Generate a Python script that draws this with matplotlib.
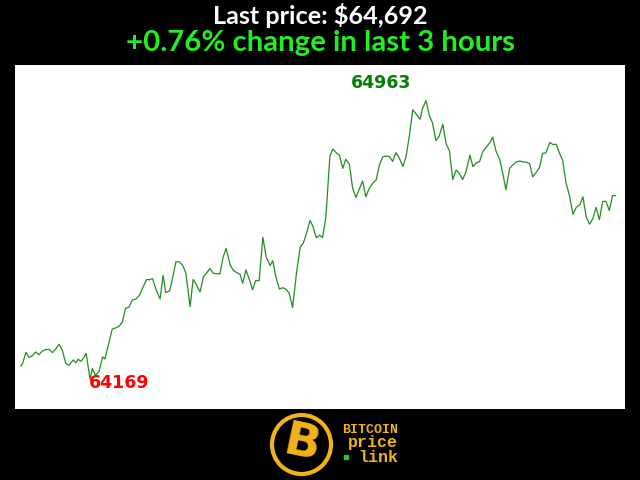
import matplotlib.pyplot as plt
from matplotlib.patches import Circle

# minutes since start of the 3 hour window
minutes = [
    0.0, 0.5, 1.6, 2.5, 3.5, 4.5, 5.5, 6.5, 7.6, 8.6,
    9.6, 10.6, 11.6, 12.6, 13.6, 14.6, 15.9, 16.7, 17.4, 18.2,
    19.0, 19.8, 21.0, 21.7, 22.6, 23.7, 24.8, 25.5, 26.6, 27.7,
    28.9, 29.9, 30.8, 31.7, 32.8, 33.8, 34.9, 36.0, 37.0, 38.1,
    39.0, 39.9, 41.0, 42.2, 43.1, 43.9, 45.1, 46.0, 47.0, 48.0,
    49.1, 50.0, 51.3, 52.2, 53.2, 54.3, 55.3, 56.3, 57.3, 58.3,
    59.3, 60.3, 61.3, 62.2, 63.4, 64.4, 65.4, 66.4, 67.2, 68.2,
    69.2, 70.2, 71.1, 72.2, 73.3, 74.3, 75.5, 76.3, 77.3, 78.3,
    79.3, 80.3, 81.3, 82.3, 83.5, 84.6, 85.6, 86.6, 87.6, 88.5,
    89.5, 90.5, 91.4, 92.4, 93.6, 94.5, 95.5, 96.5, 97.5, 98.4,
    99.5, 100.5, 101.5, 102.5, 103.5, 104.5, 105.5, 106.6, 107.6, 108.6,
    109.6, 110.6, 111.6, 112.6, 113.6, 114.6, 115.7, 116.7, 117.7, 118.7,
    119.7, 120.9, 121.7, 122.7, 123.7, 124.7, 125.7, 126.7, 127.8, 128.8,
    129.8, 130.8, 131.8, 132.8, 133.8, 134.8, 136.0, 136.9, 137.9, 138.9,
    139.9, 140.9, 142.0, 142.9, 143.9, 145.0, 145.9, 146.9, 148.0, 149.0,
    150.0, 151.1, 152.1, 153.1, 154.1, 155.0, 156.0, 157.1, 158.0, 159.0,
    160.2, 161.1, 162.1, 163.1, 164.1, 165.1, 166.1, 167.2, 168.2, 169.3,
    170.2, 171.2, 172.2, 173.2, 174.2, 175.2, 176.2, 177.2, 178.2, 179.2,
    180.0,
]

prices = [
    64207, 64212, 64246, 64231, 64236, 64247, 64239, 64249, 64254, 64254,
    64245, 64255, 64269, 64252, 64215, 64209, 64224, 64216, 64226, 64220,
    64229, 64243, 64169, 64200, 64181, 64191, 64233, 64227, 64270, 64312,
    64316, 64321, 64333, 64371, 64375, 64395, 64398, 64409, 64431, 64453,
    64453, 64456, 64424, 64398, 64465, 64416, 64421, 64458, 64504, 64504,
    64493, 64471, 64376, 64454, 64438, 64418, 64461, 64472, 64485, 64471,
    64470, 64469, 64518, 64542, 64495, 64479, 64473, 64468, 64443, 64481,
    64454, 64424, 64450, 64450, 64574, 64518, 64493, 64507, 64459, 64426,
    64430, 64426, 64414, 64373, 64472, 64545, 64558, 64587, 64622, 64604,
    64572, 64580, 64573, 64632, 64805, 64825, 64815, 64807, 64770, 64796,
    64782, 64713, 64687, 64711, 64734, 64689, 64713, 64728, 64737, 64780,
    64803, 64805, 64804, 64790, 64815, 64800, 64775, 64805, 64865, 64937,
    64925, 64910, 64942, 64963, 64921, 64899, 64849, 64862, 64896, 64840,
    64820, 64738, 64765, 64756, 64738, 64760, 64808, 64775, 64786, 64789,
    64818, 64830, 64843, 64859, 64819, 64796, 64758, 64709, 64770, 64780,
    64788, 64791, 64788, 64788, 64783, 64746, 64758, 64773, 64813, 64814,
    64844, 64838, 64839, 64814, 64792, 64728, 64694, 64639, 64659, 64667,
    64689, 64632, 64611, 64626, 64659, 64624, 64676, 64676, 64650, 64693,
    64692,
]

last_price = prices[-1]
change_pct = 0.76

GOLD = '#f2b31a'

fig = plt.figure(figsize=(6.4, 4.8), dpi=100, facecolor='black')

# chart area (white box)
ax = fig.add_axes([15 / 640, 71 / 480, 610 / 640, 344 / 480])
ax.set_facecolor('white')
ax.plot(minutes, prices, color='#1f8f1f', linewidth=0.9)
ax.set_xlim(-1.73, 182.95)
lo, hi = min(prices), max(prices)
ax.set_ylim(lo - 0.1066 * (hi - lo), hi + 0.128 * (hi - lo))
ax.set_xticks([])
ax.set_yticks([])
for s in ax.spines.values():
    s.set_visible(False)

i_max = prices.index(hi)
i_min = prices.index(lo)
ax.annotate(str(hi), (minutes[i_max], hi), xytext=(-45, 18),
            textcoords='offset pixels', ha='center', va='center',
            color='#008000', fontsize=12.5, fontweight='bold')
ax.annotate(str(lo), (minutes[i_min], lo), xytext=(29, -4),
            textcoords='offset pixels', ha='center', va='center',
            color='#ff0000', fontsize=12.5, fontweight='bold')

# headline
fig.text(0.5, 1 - 16 / 480, f'Last price: ${last_price:,}', ha='center', va='center',
         color='white', fontsize=18.2, fontweight='bold', family='Lato')
fig.text(0.5, 1 - 43 / 480, f'+{change_pct:.2f}% change in last 3 hours', ha='center',
         va='center', color='#22ee22', fontsize=21.2, fontweight='bold', family='Lato')

# logo at the bottom, in pixel coords
lg = fig.add_axes([0, 0, 1, 70 / 480])
lg.set_xlim(0, 640)
lg.set_ylim(480, 410)
lg.axis('off')
lg.add_patch(Circle((301.5, 444.5), 29.5, fill=False, edgecolor=GOLD, linewidth=3))
lg.text(302, 445, 'B', ha='center', va='center', color=GOLD, fontsize=34,
        fontweight='bold', rotation=-12)
lg.text(398, 430, 'BITCOIN', ha='right', va='center', color=GOLD, fontsize=9.5,
        fontweight='bold', family='Liberation Mono')
lg.text(398, 443, 'price', ha='right', va='center', color=GOLD, fontsize=12,
        fontweight='bold', family='Liberation Mono')
lg.text(398, 457, 'link', ha='right', va='center', color=GOLD, fontsize=12,
        fontweight='bold', family='Liberation Mono')
lg.plot([346], [457], marker='s', markersize=2.5, color='#22cc22')

fig.savefig('out.png', dpi=100, facecolor='black')
